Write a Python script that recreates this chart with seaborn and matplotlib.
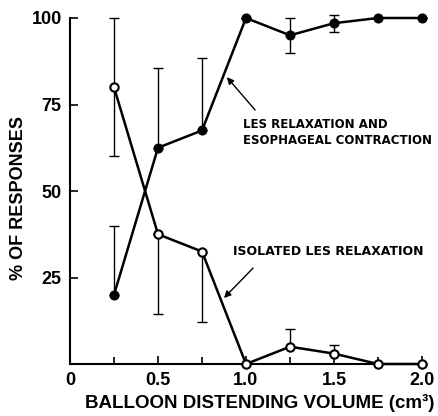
import matplotlib
matplotlib.use("Agg")
import matplotlib.pyplot as plt
import seaborn as sns
import pandas as pd
import numpy as np

volume = [0.25, 0.5, 0.75, 1.0, 1.25, 1.5, 1.75, 2.0]
les_esoph = [20, 62.5, 67.5, 100, 95, 98.5, 100, 100]
les_esoph_err_low = [0, 0, 0, 0, 5, 2.5, 0, 0]
les_esoph_err_high = [20, 23, 21, 0, 5, 2.5, 0, 0]
isolated = [80, 37.5, 32.5, 0, 5, 3, 0, 0]
isolated_err_low = [20, 23, 20.5, 0, 0, 0, 0, 0]
isolated_err_high = [20, 0, 0, 0, 5, 2.5, 0, 0]

xticks = [0, 0.5, 1.0, 1.5, 2.0]
xticklabels = ["0", "0.5", "1.0", "1.5", "2.0"]
yticks = [25, 50, 75, 100]
yticklabels = ["25", "50", "75", "100"]

sns.set_style("ticks")
plt.rcParams['font.family'] = ['Liberation Sans', 'DejaVu Sans']
for k in ["text.color", "xtick.color", "ytick.color", "axes.labelcolor", "axes.edgecolor"]:
    plt.rcParams[k] = "black"

fig = plt.figure(figsize=(4.39, 4.16), dpi=100)
ax = fig.add_axes([70/439, 52/416, 352/439, 346/416])

df = pd.DataFrame({"vol": volume, "a": les_esoph, "b": isolated})

# error bars
ax.errorbar(volume, les_esoph, yerr=[les_esoph_err_low, les_esoph_err_high], fmt="none",
            ecolor="black", elinewidth=1.0, capsize=3.5, capthick=1.0, clip_on=False, zorder=2)
ax.errorbar(volume, isolated, yerr=[isolated_err_low, isolated_err_high], fmt="none",
            ecolor="black", elinewidth=1.0, capsize=3.5, capthick=1.0, clip_on=False, zorder=2)

sns.lineplot(data=df, x="vol", y="a", ax=ax, color="black", lw=1.8,
             marker="o", markersize=6.5, markerfacecolor="black",
             markeredgecolor="black", clip_on=False, zorder=3)
sns.lineplot(data=df, x="vol", y="b", ax=ax, color="black", lw=1.8,
             marker="o", markersize=6, markerfacecolor="white",
             markeredgecolor="black", markeredgewidth=1.5, clip_on=False, zorder=3)

ax.set_xlim(0, 2.0)
ax.set_ylim(0, 100)
ax.set_xticks(xticks)
ax.set_xticklabels(xticklabels, fontsize=13, fontweight="bold")
ax.set_xticks([0.25, 0.75, 1.25, 1.75], minor=True)
ax.set_yticks(yticks)
ax.set_yticklabels(yticklabels, fontsize=13, fontweight="bold")
ax.tick_params(axis="both", which="major", direction="in", length=6, width=1.2, pad=6)
ax.tick_params(axis="x", which="minor", direction="in", length=5, width=1.2)
for s in ["top", "right"]:
    ax.spines[s].set_visible(False)
for s in ["left", "bottom"]:
    ax.spines[s].set_linewidth(1.5)

ax.set_xlabel("BALLOON DISTENDING VOLUME (cm³)", fontsize=13.5, fontweight="bold")
ax.xaxis.set_label_coords(0.54, -0.088)
ax.set_ylabel("% OF RESPONSES", fontsize=13, fontweight="bold")
ax.yaxis.set_label_coords(-0.122, 0.48)

ann_font = ['DejaVu Sans']
ax.text(0.983, 67, "LES RELAXATION AND\nESOPHAGEAL CONTRACTION", fontsize=8.5,
        fontweight="bold", ha="left", va="center", linespacing=1.3, family=ann_font)
ax.annotate("", xy=(0.881, 83.5), xytext=(1.062, 72.8),
            arrowprops=dict(arrowstyle="-|>", color="black", lw=1.0, mutation_scale=10))
ax.text(0.926, 32.4, "ISOLATED LES RELAXATION", fontsize=9,
        fontweight="bold", ha="left", va="center", family=ann_font)
ax.annotate("", xy=(0.864, 18.5), xytext=(1.051, 28.3),
            arrowprops=dict(arrowstyle="-|>", color="black", lw=1.0, mutation_scale=10))

fig.savefig("out.png", dpi=100)
